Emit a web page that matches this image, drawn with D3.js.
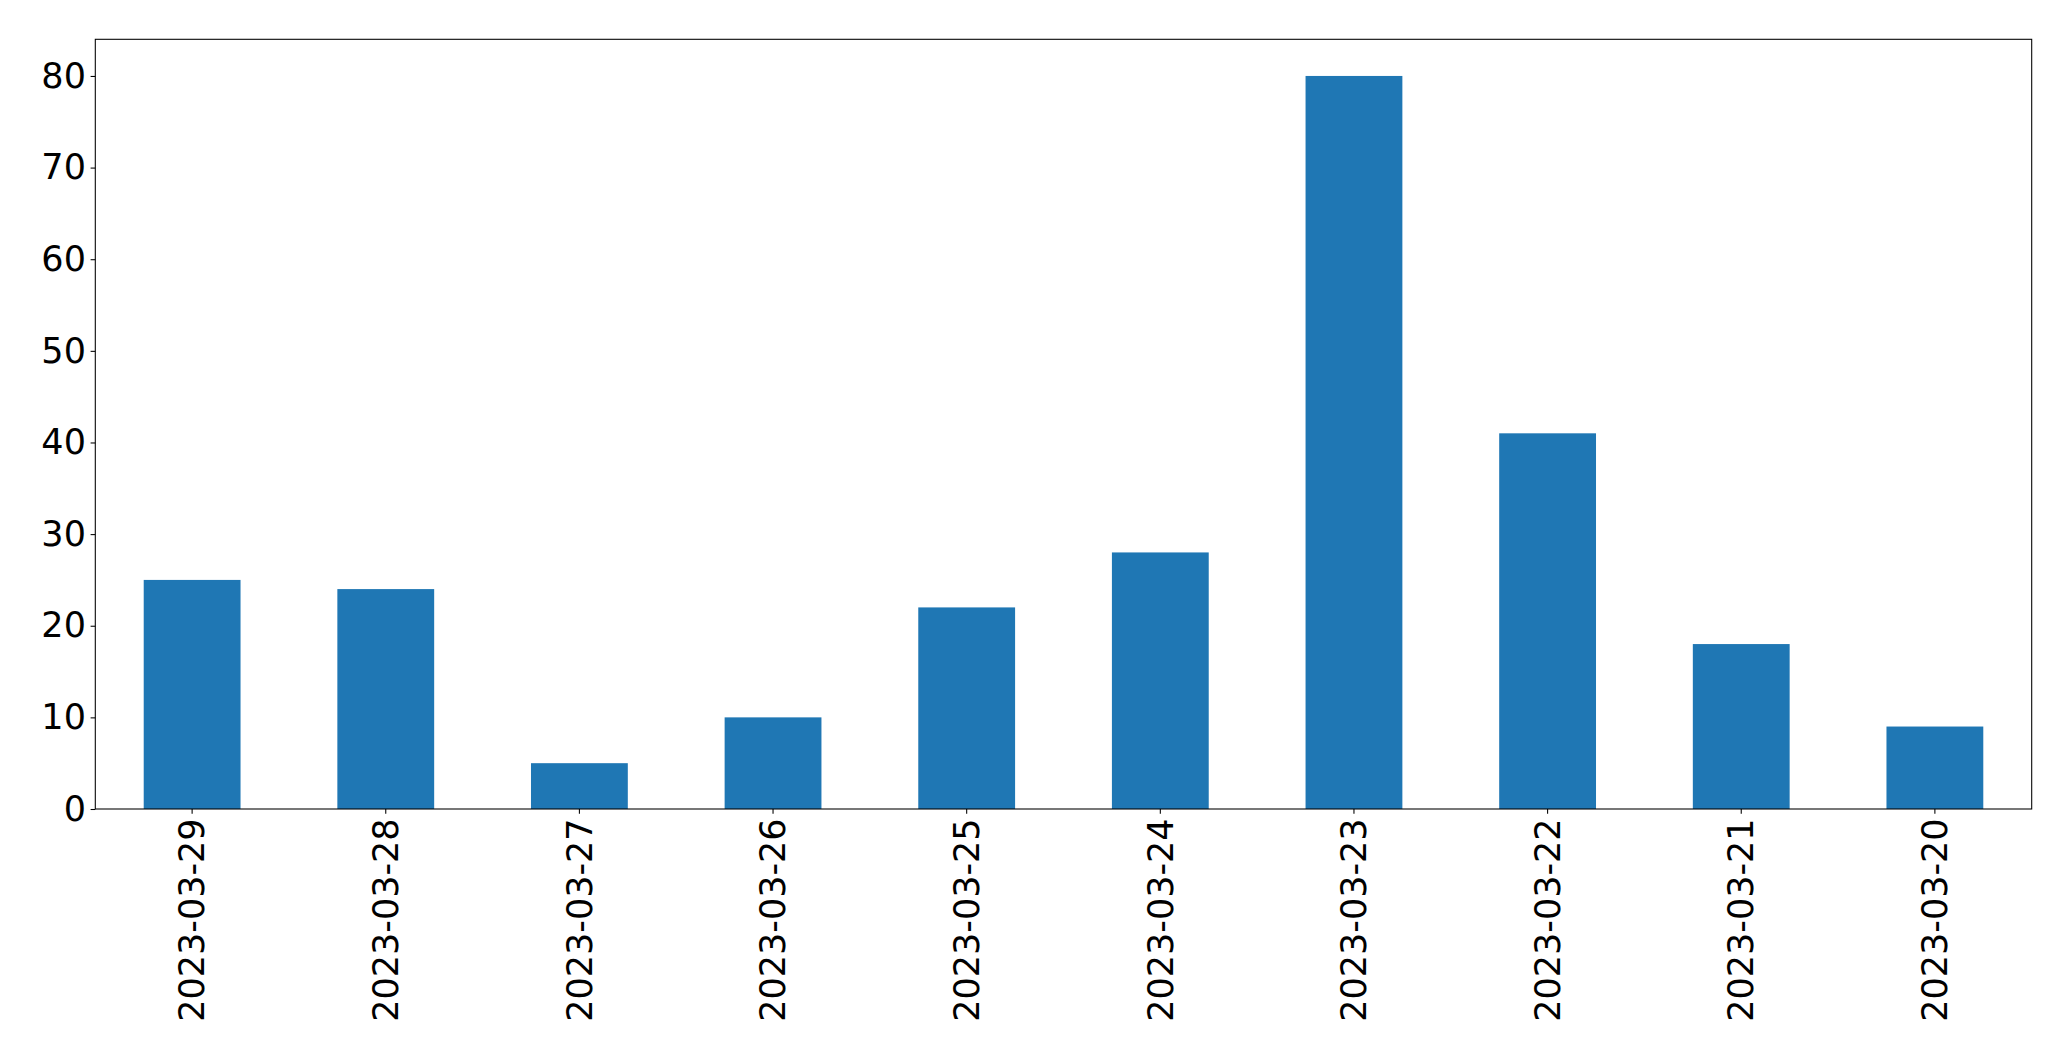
<!DOCTYPE html>
<html>
<head>
<meta charset="utf-8">
<script src="https://cdn.jsdelivr.net/npm/d3@7"></script>
<style>
  html, body { margin: 0; padding: 0; background: #fff; }
  svg { display: block; }
  text { font-family: "DejaVu Sans", sans-serif; fill: #000; }
</style>
</head>
<body>
<svg id="chart" width="2071" height="1061"></svg>
<script>
const categories = ["2023-03-29","2023-03-28","2023-03-27","2023-03-26","2023-03-25","2023-03-24","2023-03-23","2023-03-22","2023-03-21","2023-03-20"];
const values = [25, 24, 5, 10, 22, 28, 80, 41, 18, 9];
const yTicks = [0, 10, 20, 30, 40, 50, 60, 70, 80];

const W = 2071, H = 1061;
const margin = { left: 95.3, right: W - 2031.7, top: 39.3, bottom: H - 809 };
const svg = d3.select("#chart");
const fontSize = 35;
const tickLen = 4.7, tickPad = 4.7;

const x = d3.scaleBand()
  .domain(categories)
  .range([margin.left, W - margin.right])
  .paddingInner(0.5)
  .paddingOuter(0.25);

const y = d3.scaleLinear()
  .domain([0, d3.max(values) * 1.05])
  .range([H - margin.bottom, margin.top]);

// bars
svg.append("g").selectAll("rect")
  .data(categories)
  .join("rect")
  .attr("x", d => x(d))
  .attr("width", x.bandwidth())
  .attr("y", (d, i) => y(values[i]))
  .attr("height", (d, i) => y(0) - y(values[i]))
  .attr("fill", "#1f77b4");

// y axis
const yAxis = svg.append("g")
  .attr("transform", `translate(${margin.left},0)`)
  .call(d3.axisLeft(y).tickValues(yTicks).tickSize(tickLen).tickPadding(tickPad));
yAxis.select(".domain").remove();
yAxis.selectAll(".tick line").attr("stroke", "#000").attr("stroke-width", 1.07);
yAxis.selectAll(".tick text")
  .style("font-size", fontSize + "px")
  .attr("font-family", "DejaVu Sans")
  .attr("fill", "#000");

// x axis
const xAxis = svg.append("g")
  .attr("transform", `translate(0,${H - margin.bottom})`)
  .call(d3.axisBottom(x).tickSize(tickLen).tickPadding(tickPad));
xAxis.select(".domain").remove();
xAxis.selectAll(".tick line").attr("stroke", "#000").attr("stroke-width", 1.07);
xAxis.selectAll(".tick text")
  .style("font-size", fontSize + "px")
  .attr("font-family", "DejaVu Sans")
  .attr("fill", "#000")
  .attr("text-anchor", "end")
  .attr("transform", `translate(0,${tickLen + tickPad}) rotate(-90)`)
  .attr("x", 0)
  .attr("y", 0)
  .attr("dy", "0.35em");

// frame
svg.append("rect")
  .attr("x", margin.left)
  .attr("y", margin.top)
  .attr("width", W - margin.left - margin.right)
  .attr("height", H - margin.top - margin.bottom)
  .attr("fill", "none")
  .attr("stroke", "#000")
  .attr("stroke-width", 1.07);
</script>
</body>
</html>
